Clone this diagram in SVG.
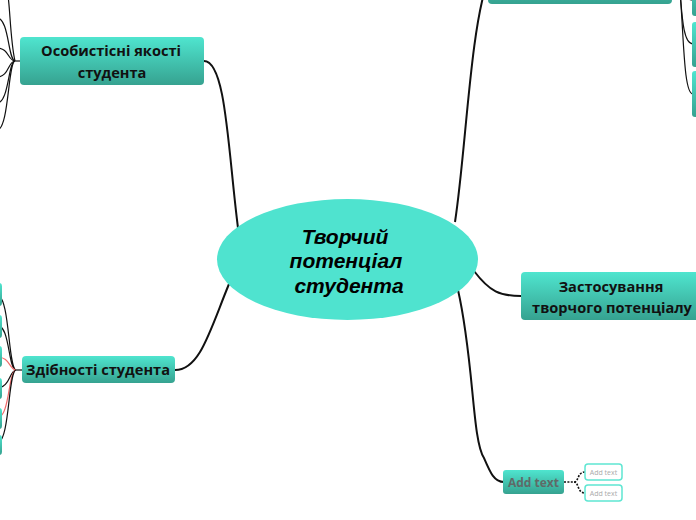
<svg xmlns="http://www.w3.org/2000/svg" width="696" height="520" viewBox="0 0 696 520">
<defs>
<linearGradient id="ng" x1="0" y1="0" x2="0" y2="1">
<stop offset="0" stop-color="#4fe5cf"/>
<stop offset="1" stop-color="#36a290"/>
</linearGradient>
</defs>
<style>
.node{fill:url(#ng)}
.lbl{font-family:"Open Sans","Noto Sans",sans-serif;font-weight:bold;font-size:14.6px;fill:#111;text-anchor:middle}
.c{fill:none;stroke:#111;stroke-width:1.2}
.ct{fill:none;stroke:#111;stroke-width:2}
.cr{fill:none;stroke:#f06a6a;stroke-width:1.2}
.cd{fill:none;stroke:#111;stroke-width:1.6;stroke-dasharray:2 1.4}
.sub{fill:#fff;stroke:#5fe6d2;stroke-width:1.5}
.subt{font-family:"Open Sans","Noto Sans",sans-serif;font-size:7px;fill:#aaa;text-anchor:middle}
</style>
<g id="connectors">
<path class="ct" d="M238 228 C228 150 226 61 204 61"/>
<path class="ct" d="M229 284 C210 330 200 370 175 370"/>
<path class="ct" d="M455 222 C466 150 470 30 488 -20"/>
<path class="ct" d="M474 271 C490 292 500 296 521 296"/>
<path class="ct" d="M458 290 C474 360 472 440 484 458 C490 472 494 482 504 482"/>
<path class="c" d="M20 61 L15 61"/>
<path class="c" d="M15 61 C10 40 10 0 7 -10"/>
<path class="c" d="M15 61 C8 60 9 18 -3 18"/>
<path class="c" d="M15 61 C8 61 9 48 -3 48"/>
<path class="c" d="M15 61 C8 61 9 77 -3 77"/>
<path class="c" d="M15 61 C8 62 9 103 -3 103"/>
<path class="c" d="M15 61 C8 62 9 130 -3 130"/>
<path class="c" d="M22 370 L16 370"/>
<path class="c" d="M16 370 C8 369 10 295 -3 295"/>
<path class="c" d="M16 370 C8 369 10 325 -3 325"/>
<path class="cr" d="M16 370 C9 369 10 357 -3 357"/>
<path class="c" d="M16 370 C9 371 10 388 -3 388"/>
<path class="cr" d="M16 370 C8 371 10 418 -3 418"/>
<path class="c" d="M16 370 C8 371 10 443 -3 443"/>
<path class="c" d="M672 -20 L679 -20"/>
<path class="c" d="M679 -20 C682 10 682 44 693 44"/>
<path class="c" d="M679 -20 C684 30 683 94 693 94"/>
<path class="c" d="M679 -20 C682 -10 684 0 693 0"/>
<path class="cd" d="M564 482 L574 482 C579 482 577 472 585 472"/>
<path class="cd" d="M574 482 C579 482 577 493 585 493"/>
</g>
<g id="center">
<ellipse cx="347.5" cy="259.5" rx="130.5" ry="60.5" fill="#4fe3cf"/>
<text font-family="'Liberation Sans',Arial,sans-serif" font-weight="bold" font-style="italic" font-size="21" fill="#000" text-anchor="middle"><tspan x="345" y="244">Творчий</tspan><tspan x="346" y="268">потенціал</tspan><tspan x="349" y="293">студента</tspan></text>
</g>
<g id="n-osob">
<rect class="node" x="20" y="37" width="184" height="48" rx="4"/>
<text class="lbl"><tspan x="111" y="56">Особистісні якості</tspan><tspan x="112" y="78">студента</tspan></text>
</g>
<g id="n-zdib">
<rect class="node" x="22" y="356" width="153" height="27" rx="4"/>
<text class="lbl" x="98" y="375">Здібності студента</text>
</g>
<g id="n-zast">
<rect class="node" x="521" y="272" width="182" height="48" rx="4"/>
<text class="lbl"><tspan x="611" y="292">Застосування</tspan><tspan x="612" y="313">творчого потенціалу</tspan></text>
</g>
<g id="n-top">
<rect class="node" x="488" y="-44" width="184" height="48" rx="4"/>
</g>
<g id="n-r1"><rect class="node" x="692" y="-30" width="24" height="46" rx="3"/></g>
<g id="n-r2"><rect class="node" x="692" y="22" width="24" height="45" rx="3"/></g>
<g id="n-r3"><rect class="node" x="692" y="71" width="24" height="46" rx="3"/></g>
<g id="n-l1"><rect class="node" x="-22" y="283" width="24" height="23" rx="3"/></g>
<g id="n-l2"><rect class="node" x="-22" y="315" width="24" height="23" rx="3"/></g>
<g id="n-l3"><rect class="node" x="-22" y="346" width="24" height="21" rx="3"/></g>
<g id="n-l4"><rect class="node" x="-22" y="378" width="24" height="21" rx="3"/></g>
<g id="n-l5"><rect class="node" x="-22" y="408" width="24" height="21" rx="3"/></g>
<g id="n-l6"><rect class="node" x="-22" y="435" width="24" height="20" rx="3"/></g>
<g id="n-add">
<rect class="node" x="503" y="470" width="61" height="24" rx="3"/>
<text x="533.5" y="487" font-family="'Open Sans','Noto Sans',sans-serif" font-weight="bold" font-size="12" fill="#5f6a68" text-anchor="middle">Add text</text>
</g>
<g id="n-add1">
<rect class="sub" x="585" y="464" width="37" height="16" rx="3"/>
<text class="subt" x="603.5" y="475">Add text</text>
</g>
<g id="n-add2">
<rect class="sub" x="585" y="485" width="37" height="16" rx="3"/>
<text class="subt" x="603.5" y="496">Add text</text>
</g>
</svg>
